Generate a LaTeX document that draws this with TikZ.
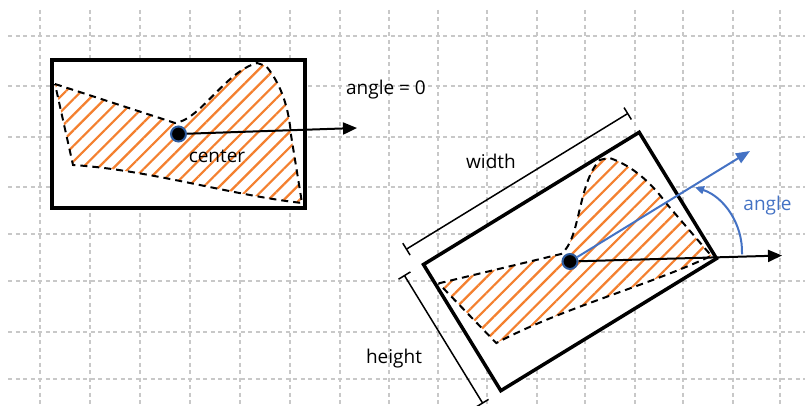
\documentclass[tikz,border=0pt]{standalone}
\usepackage{fontspec}
\setmainfont{Open Sans}
\usetikzlibrary{arrows.meta, patterns.meta}
\definecolor{hatchorange}{HTML}{F4802F}
\definecolor{angleblue}{HTML}{4472C4}
\definecolor{dotblue}{HTML}{2F5C9E}
\definecolor{gridgray}{HTML}{C8C8C8}
\tikzset{
  gridline/.style={gridgray, line width=1.7pt, dash pattern=on 4pt off 3.5pt},
  bbox/.style={rectangle, draw=black, fill=white, line width=3.5pt, minimum width=253pt, minimum height=148pt, inner sep=0pt},
  hatch/.style={pattern={Lines[angle=45, distance=11pt, line width=2.2pt]}, pattern color=hatchorange},
  outline/.style={draw=black, line width=2pt, dash pattern=on 7pt off 5pt},
  centerdot/.style={circle, fill=black, draw=dotblue, line width=2pt, minimum size=15pt, inner sep=0pt},
  arrow/.style={line width=2pt, -{Triangle[length=14pt, width=12pt]}},
  bluearrow/.style={angleblue, line width=2pt, -{Triangle[length=14pt, width=11pt]}},
  dimline/.style={line width=1.5pt},
  textlabel/.style={font=\fontsize{19}{22}\selectfont, anchor=base, inner sep=0pt}
}
\newcommand{\regionpath}{(-123.5,-50) -- (-3.5,-11) .. controls (21.5,-14) and (46.5,-62) .. (78.5,-71) -- (87.5,-68) .. controls (103.5,-49) and (110.5,-24) .. (112.5,1) -- (123.5,69) .. controls (51.5,61) and (-28.5,36) .. (-105.5,31) -- cycle}

\begin{document}
\begin{tikzpicture}[x=1pt, y=-1pt]
  \useasboundingbox (0,0) rectangle (805,406);

  % grid
  \foreach \gx in {40,90,140,190,240,290,340,389,438.3,486.7,536.7,585,635,683.3,733.3,780}
    \draw[gridline] (\gx,10) -- (\gx,406);
  \foreach \gy in {35.7,86,136.7,186.7,234,280.7,331.7,379}
    \draw[gridline] (8,\gy) -- (805,\gy);

  % bounding boxes
  \node (box1) [bbox] at (178.5,134) {};
  \node (box2) [bbox, rotate=31.5] at (570,261.5) {};

  % left region, angle = 0
  \begin{scope}[shift={(178.5,134)}]
    \fill[hatch] \regionpath;
    \draw[outline] \regionpath;
  \end{scope}

  % right region, rotated
  \begin{scope}[shift={(570,261.5)}, rotate=31.5]
    \fill[hatch] \regionpath;
    \draw[outline] \regionpath;
    \draw[dimline] (-133,-96) -- (126.5,-96);
    \draw[dimline] (-133,-103) -- (-133,-89);
    \draw[dimline] (126.5,-103) -- (126.5,-89);
    \draw[dimline] (-148.5,-74.5) -- (-148.5,75);
    \draw[dimline] (-155.5,-74.5) -- (-141.5,-74.5);
    \draw[dimline] (-155.5,75) -- (-141.5,75);
  \end{scope}

  \node (c1) [centerdot] at (178.5,134) {};
  \node (c2) [centerdot] at (570,261.5) {};
  \coordinate (tip1) at (357,128);
  \coordinate (tip2) at (782,255.5);
  \coordinate (tip3) at (750,151);
  \coordinate (arcstart) at (742,254.4);

  \draw [arrow] (c1) -- (tip1);
  \draw [bluearrow] (c2) -- (tip3);
  \draw [arrow] (c2) -- (tip2);
  \draw [angleblue, line width=2pt, -{Triangle[length=9pt, width=8pt]}] (arcstart) arc[start angle=2, end angle=-72, radius=68];

  \node (lblzero) [textlabel] at (386,95) {angle = 0};
  \node (lblcenter) [textlabel] at (217,162.7) {center};
  \node (lblwidth) [textlabel] at (491,169) {width};
  \node (lblheight) [textlabel] at (394,363.3) {height};
  \node (lblangle) [textlabel, text=angleblue] at (767.5,210) {angle};
\end{tikzpicture}
\end{document}
